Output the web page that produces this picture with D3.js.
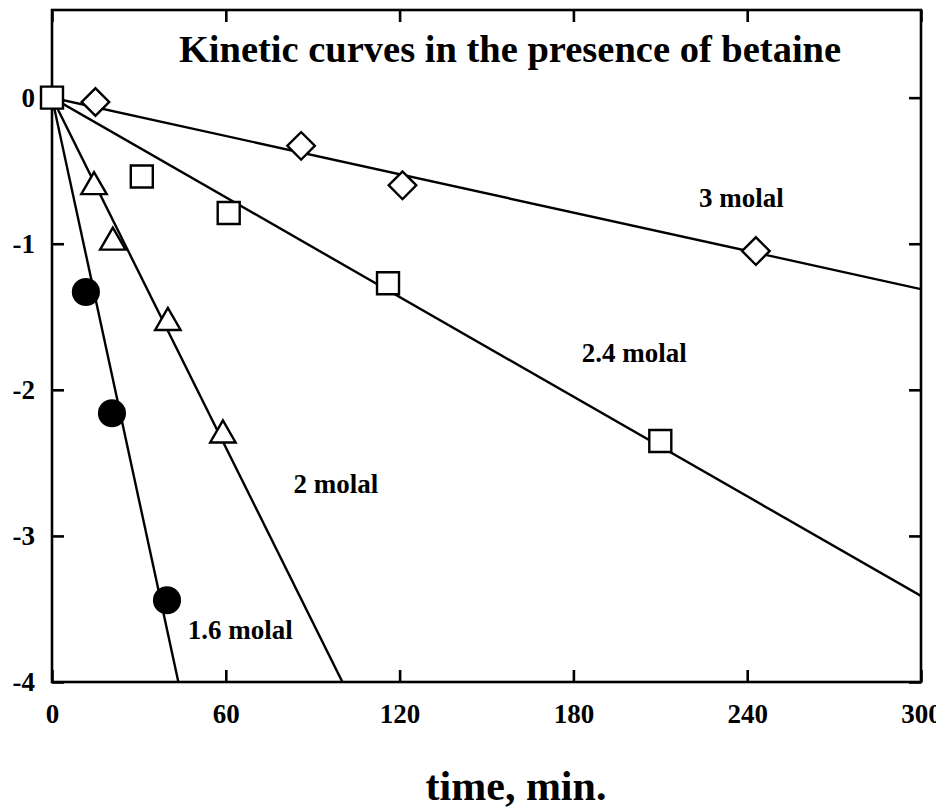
<!DOCTYPE html>
<html>
<head>
<meta charset="utf-8">
<script src="https://cdn.jsdelivr.net/npm/d3@7"></script>
<style>
  html, body { margin: 0; padding: 0; background: #fff; }
  svg { display: block; }
  text { font-family: "Liberation Serif", "Times New Roman", serif; font-weight: bold; fill: #000; }
</style>
</head>
<body>
<svg id="chart" width="936" height="809"></svg>
<script>
// ---- data ----
const xTicks = [0, 60, 120, 180, 240, 300];
const yTicks = [0, -1, -2, -3, -4];
const seriesNames = ["3 molal", "2.4 molal", "2 molal", "1.6 molal"];
const seriesSymbols = ["diamond", "square", "triangle", "circle"];

const time3 = [15, 86, 121, 243];
const val3 = [-0.03, -0.33, -0.60, -1.05];

const time24 = [0, 31, 61, 116, 210];
const val24 = [0, -0.54, -0.79, -1.27, -2.35];

const time2 = [14.5, 21, 40, 59];
const val2 = [-0.61, -0.99, -1.54, -2.31];

const time16 = [11.7, 20.7, 39.7];
const val16 = [-1.33, -2.16, -3.44];

// fitted slopes of the straight lines through the origin (per min)
const fitSlopes = [-0.00437, -0.01137, -0.0399, -0.0917];

// label anchor positions, in data units [time, value]
const labelTime = [238, 201, 98, 65];
const labelVal = [-0.75, -1.81, -2.705, -3.705];

const titleText = "Kinetic curves in the presence of betaine";
const xTitle = "time, min.";

// ---- layout ----
const svg = d3.select("#chart");
const L = 52, R = 921, T = 10, B = 682;
const x = d3.scaleLinear().domain([0, 300]).range([L, R]);
const y = d3.scaleLinear().domain([-4, 0.6]).range([B, T]);

const seriesData = [
  d3.zip(time3, val3),
  d3.zip(time24, val24),
  d3.zip(time2, val2),
  d3.zip(time16, val16)
];

svg.append("defs").append("clipPath").attr("id", "plotclip")
  .append("rect").attr("x", L).attr("y", T).attr("width", R - L).attr("height", B - T);

// fitted lines
const lineGen = d3.line().x(d => x(d[0])).y(d => y(d[1]));
const gLines = svg.append("g").attr("clip-path", "url(#plotclip)");
fitSlopes.forEach(s => {
  const tEnd = Math.min(300, -4.2 / s);
  gLines.append("path")
    .attr("d", lineGen([[0, 0], [tEnd, s * tEnd]]))
    .attr("fill", "none").attr("stroke", "#000").attr("stroke-width", 2.4);
});

// frame
svg.append("rect").attr("x", L).attr("y", T).attr("width", R - L).attr("height", B - T)
  .attr("fill", "none").attr("stroke", "#000").attr("stroke-width", 2.6);

const tl = 12;
// bottom axis (ticks inward)
const xAxisB = d3.axisBottom(x).tickValues(xTicks).tickSizeInner(-tl).tickSizeOuter(0).tickPadding(22).tickFormat(d3.format("d"));
const gxb = svg.append("g").attr("transform", `translate(0,${B})`).call(xAxisB);
// top axis
const xAxisT = d3.axisTop(x).tickValues(xTicks).tickSizeInner(-tl).tickSizeOuter(0).tickFormat("");
const gxt = svg.append("g").attr("transform", `translate(0,${T})`).call(xAxisT);
// left axis
const yAxisL = d3.axisLeft(y).tickValues(yTicks).tickSizeInner(-tl).tickSizeOuter(0).tickPadding(17).tickFormat(d3.format("d"));
const gyl = svg.append("g").attr("transform", `translate(${L},0)`).call(yAxisL);
// right axis
const yAxisR = d3.axisRight(y).tickValues(yTicks).tickSizeInner(-tl).tickSizeOuter(0).tickFormat("");
const gyr = svg.append("g").attr("transform", `translate(${R},0)`).call(yAxisR);

[gxb, gxt, gyl, gyr].forEach(g => {
  g.select(".domain").remove();
  g.selectAll(".tick line").attr("stroke", "#000").attr("stroke-width", 2.6);
  g.selectAll(".tick text").attr("font-family", "Liberation Serif, serif")
    .attr("font-weight", "bold").attr("font-size", 27).attr("fill", "#000");
});
gxb.selectAll(".tick text").attr("dy", "0.71em");
gyl.selectAll(".tick text").text(d => d === 0 ? "0" : "-" + Math.abs(d));

// markers
const symbolMap = {
  diamond: { type: d3.symbolSquare, size: 380, rotate: 45 },
  square: { type: d3.symbolSquare, size: 484, rotate: 0 },
  triangle: { type: d3.symbolTriangle, size: 280, rotate: 0 },
  circle: { type: d3.symbolCircle, size: 520, rotate: 0 }
};
seriesData.forEach((pts, i) => {
  const sm = symbolMap[seriesSymbols[i]];
  const filled = seriesSymbols[i] === "circle";
  svg.append("g").selectAll("path").data(pts).join("path")
    .attr("d", d3.symbol().type(sm.type).size(sm.size)())
    .attr("transform", d => `translate(${x(d[0])},${y(d[1])}) rotate(${sm.rotate})`)
    .attr("fill", filled ? "#000" : "#fff")
    .attr("stroke", "#000").attr("stroke-width", 2.4);
});

// series labels
seriesNames.forEach((name, i) => {
  svg.append("text").attr("x", x(labelTime[i])).attr("y", y(labelVal[i]))
    .attr("text-anchor", "middle").attr("font-size", 27).text(name);
});

// title
svg.append("text").attr("x", 510).attr("y", 62).attr("text-anchor", "middle")
  .attr("font-size", 38.5).text(titleText);

// x axis title
svg.append("text").attr("x", 516).attr("y", 800).attr("text-anchor", "middle")
  .attr("font-size", 42).text(xTitle);
</script>
</body>
</html>
